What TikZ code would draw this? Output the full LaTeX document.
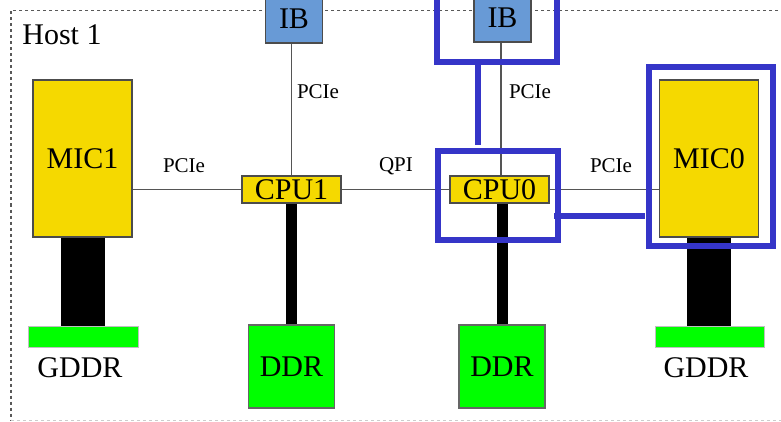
\documentclass[tikz,border=0pt]{standalone}
\usepackage{fontspec}
\setmainfont{Liberation Serif}
\definecolor{micyellow}{RGB}{245,217,0}
\definecolor{ibblue}{RGB}{104,154,214}
\definecolor{memgreen}{RGB}{0,255,0}
\definecolor{hlblue}{RGB}{53,53,200}
\definecolor{edge}{RGB}{85,85,85}
\begin{document}
\begin{tikzpicture}[x=1pt,y=-1pt,
  box/.style={draw=black!70, line width=1.1pt, inner sep=0pt, font=\fontsize{30}{36}\selectfont},
  mic/.style={box, fill=micyellow, minimum width=99pt, minimum height=157pt},
  cpu/.style={box, fill=micyellow, minimum width=99pt, minimum height=27pt},
  ib/.style={box, fill=ibblue, minimum width=57pt, minimum height=44pt},
  ddr/.style={box, draw=black!60, fill=memgreen, minimum width=86pt, minimum height=83pt},
  gddrbar/.style={draw=black!25, line width=0.8pt, fill=memgreen, inner sep=0pt, minimum height=21pt},
  bigtext/.style={inner sep=0pt, font=\fontsize{30}{36}\selectfont},
  lbl/.style={inner sep=0pt, font=\fontsize{21}{25}\selectfont},
  conn/.style={draw=edge, line width=1.5pt},
  membus/.style={draw=black, line width=11pt},
  gbus/.style={draw=black, line width=44pt},
  hl/.style={draw=hlblue, line width=6pt},
  hlbox/.style={hl, inner sep=0pt}
]
\useasboundingbox (0,0) rectangle (781,422);
\clip (0,0) rectangle (781,422);
% host frame
\draw[black!65, line width=1.2pt, dash pattern=on 3pt off 3pt] (790,10.5) -- (11,10.5) -- (11,420.5);
\draw[black!20, line width=1pt, dash pattern=on 3pt off 3pt] (11,420.5) -- (790,420.5);
\node[bigtext] (host) at (62,35) {Host 1};

% components
\node[mic] (mic1) at (82.5,158.5) {MIC1};
\node[mic] (mic0) at (709,158.5) {MIC0};
\node[cpu] (cpu1) at (291.5,189.5) {CPU1};
\node[cpu] (cpu0) at (499.5,189.5) {CPU0};
\node[ib] (ib1) at (294,21) {\raisebox{4pt}{IB}};
\node[ib] (ib0) at (502.5,20) {\raisebox{4pt}{IB}};
\node[ddr] (ddr1) at (291.5,366.5) {DDR};
\node[ddr] (ddr0) at (502,366.5) {DDR};

% memory buses (drawn under the GDDR bars)
\draw[membus] (cpu1.south) -- (ddr1.north);
\draw[membus] (cpu0.south -| ddr0.north) -- (ddr0.north);
\node[gddrbar, minimum width=110pt] (gddr1) at (83,336.5) {};
\node[gddrbar, minimum width=109pt] (gddr0) at (709.5,336.5) {};
\draw[gbus] (mic1.south -| gddr1.north) -- (gddr1.north);
\draw[gbus] (mic0.south) -- (mic0.south |- gddr0.north);
\node[bigtext] (gddrl1) at (80,368) {GDDR};
\node[bigtext] (gddrl0) at (706,368) {GDDR};

% links
\draw[conn] (mic1.east |- cpu1.west) -- (cpu1.west);
\draw[conn] (cpu1.east) -- (cpu0.west);
\draw[conn] (cpu0.east) -- (cpu0.east -| mic0.west);
\draw[conn] (ib1.south -| cpu1.north) -- (cpu1.north);
\draw[conn] (ib0.south -| 501,0) -- (cpu0.north -| 501,0);
\node[lbl] (l1) at (184,166) {PCIe};
\node[lbl] (l2) at (396,166) {QPI};
\node[lbl] (l3) at (611,166) {PCIe};
\node[lbl] (l4) at (318,92) {PCIe};
\node[lbl] (l5) at (530,92) {PCIe};

% highlights
\node[hlbox, minimum width=119.5pt, minimum height=72.5pt] (hib) at (496.75,26.25) {};
\node[hlbox, minimum width=120pt, minimum height=88.5pt] (hcpu) at (498,195.75) {};
\node[hlbox, minimum width=124pt, minimum height=178.5pt] (hmic) at (711,156.25) {};
\coordinate (va) at (478,65);
\coordinate (vb) at (478,145);
\coordinate (ha) at (554,216);
\coordinate (hb) at (645,216);
\draw[hl] (va) -- (vb);
\draw[hl] (ha) -- (hb);
\end{tikzpicture}
\end{document}
